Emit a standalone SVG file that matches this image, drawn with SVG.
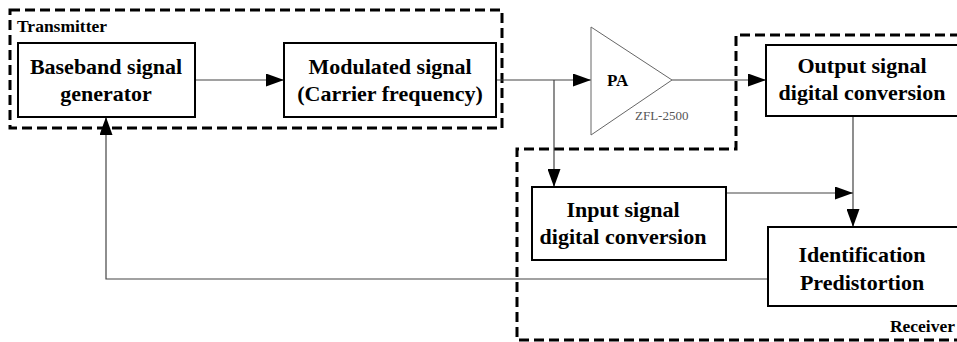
<svg xmlns="http://www.w3.org/2000/svg" width="957" height="342" viewBox="0 0 957 342">
<style>
.box{fill:#fff;stroke:#000;stroke-width:2}
.dash{fill:none;stroke:#000;stroke-width:3;stroke-dasharray:10,5}
.wire{fill:none;stroke:#444;stroke-width:1.2}
.t{font-family:"Liberation Serif","Times New Roman",serif;font-weight:bold;font-size:22px;fill:#000;text-anchor:middle}
.lbl{font-family:"Liberation Serif","Times New Roman",serif;font-weight:bold;font-size:17.5px;fill:#000}
</style>
<defs>
<marker id="arr" markerUnits="userSpaceOnUse" markerWidth="18" markerHeight="13" refX="18" refY="6.5" orient="auto">
<path d="M0,0 L18,6.5 L0,13 z" fill="#000"/>
</marker>
</defs>
<g id="groups">
<rect id="transmitter" class="dash" x="10" y="10" width="492" height="118"/>
<path id="receiver" class="dash" d="M960,35 L736,35 L736,149 L517,149 L517,340 L960,340"/>
<text class="lbl" x="17" y="32">Transmitter</text>
<text class="lbl" x="955" y="332" text-anchor="end">Receiver</text>
</g>
<g id="connectors">
<line class="wire" x1="195" y1="80" x2="284" y2="80" marker-end="url(#arr)"/>
<line class="wire" x1="496" y1="80" x2="591" y2="80" marker-end="url(#arr)"/>
<line class="wire" x1="554" y1="80" x2="554" y2="187" marker-end="url(#arr)"/>
<line class="wire" x1="672" y1="80" x2="766" y2="80" marker-end="url(#arr)"/>
<line class="wire" x1="853" y1="116" x2="853" y2="227" marker-end="url(#arr)"/>
<line class="wire" x1="719" y1="193" x2="853" y2="193" marker-end="url(#arr)"/>
<polyline class="wire" points="768,279 106,279 106,117" marker-end="url(#arr)"/>
</g>
<g id="baseband">
<rect class="box" x="18" y="43" width="177" height="74"/>
<text class="t" x="106" y="74">Baseband signal</text>
<text class="t" x="106" y="101">generator</text>
</g>
<g id="modulated">
<rect class="box" x="284" y="43" width="212" height="74"/>
<text class="t" x="390" y="74">Modulated signal</text>
<text class="t" x="390" y="101">(Carrier frequency)</text>
</g>
<g id="pa">
<polygon points="591,27 672,80 591,135" fill="#fff" stroke="#666" stroke-width="1"/>
<text x="607" y="86" font-family="Liberation Serif, serif" font-weight="bold" font-size="17px">PA</text>
<text x="635" y="120" font-family="Liberation Serif, serif" font-size="13px" fill="#555">ZFL-2500</text>
</g>
<g id="output">
<rect class="box" x="766" y="45" width="195" height="71"/>
<text class="t" x="862" y="73">Output signal</text>
<text class="t" x="862" y="100">digital conversion</text>
</g>
<g id="input">
<rect class="box" x="532" y="187" width="194" height="73"/>
<text class="t" x="623" y="217">Input signal</text>
<text class="t" x="623" y="244">digital conversion</text>
</g>
<g id="identification">
<rect class="box" x="768" y="227" width="193" height="79"/>
<text class="t" x="862" y="262">Identification</text>
<text class="t" x="862" y="290">Predistortion</text>
</g>
</svg>
